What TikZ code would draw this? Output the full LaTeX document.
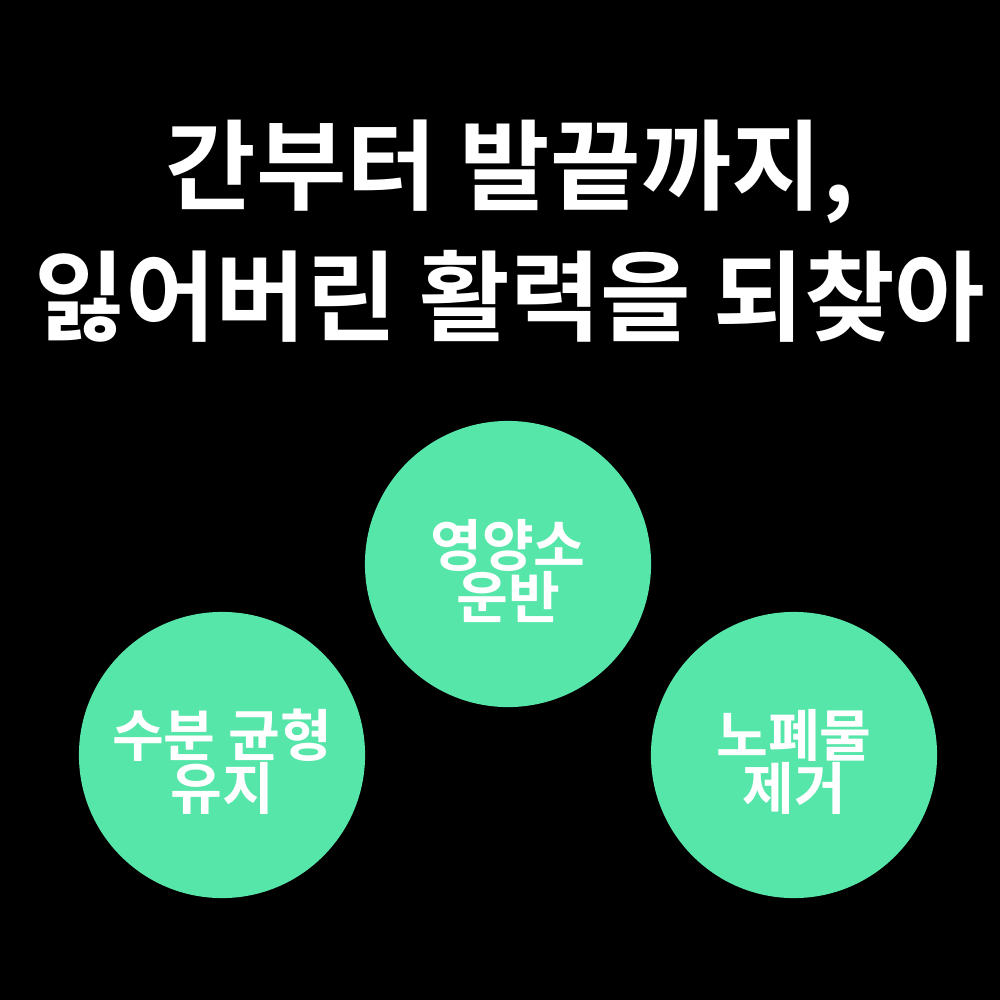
\documentclass[tikz,border=0pt]{standalone}
\usepackage{fontspec}
\newfontfamily\kr{Noto Sans CJK KR}[BoldFont={* Bold}]
\definecolor{mint}{HTML}{57E6AA}
\begin{document}
\begin{tikzpicture}[x=0.01cm,y=-0.01cm,
  blob/.style={circle,fill=mint,minimum size=2.86cm,inner sep=0pt},
  lbl/.style={text=white,font=\kr\bfseries\fontsize{16}{17}\selectfont,align=center},
  ttl/.style={text=white,font=\kr\bfseries\fontsize{28}{30}\selectfont}]
\fill[black] (0,0) rectangle (1000,1000);
\useasboundingbox (0,0) rectangle (1000,1000);
\node[ttl] (t1) at (510,172) {간부터 발끝까지,};
\node[ttl] (t2) at (510,296) {잃어버린 활력을 되찾아};
\node[blob] (c1) at (508,564) {};
\node[blob] (c2) at (222,755) {};
\node[blob] (c3) at (794,755) {};
\node[lbl] (l1) at (508,571) {영양소\\[-2pt]운반};
\node[lbl] (l2) at (222,762) {수분 균형\\[-2pt]유지};
\node[lbl] (l3) at (794,762) {노폐물\\[-2pt]제거};
\end{tikzpicture}
\end{document}
